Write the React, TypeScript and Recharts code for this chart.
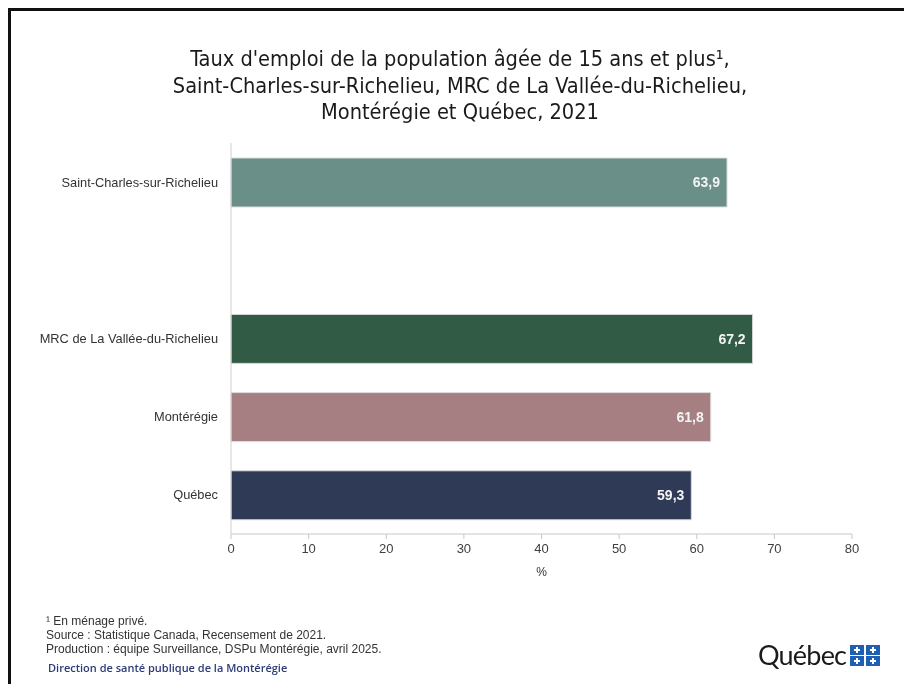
import { BarChart, Bar, XAxis, YAxis, Cell, LabelList } from 'recharts'

const categories = ['Saint-Charles-sur-Richelieu', '', 'MRC de La Vallée-du-Richelieu', 'Montérégie', 'Québec']
const rates = [63.9, null, 67.2, 61.8, 59.3]
const barColors = ['#6a8f89', '#ffffff', '#325b45', '#a67f83', '#2f3a57']
const xTicks = [0, 10, 20, 30, 40, 50, 60, 70, 80]

const titleLines = [
  "Taux d'emploi de la population âgée de 15 ans et plus¹,",
  'Saint-Charles-sur-Richelieu, MRC de La Vallée-du-Richelieu,',
  'Montérégie et Québec, 2021',
]

const notes = [
  '¹ En ménage privé.',
  'Source : Statistique Canada, Recensement de 2021.',
  'Production : équipe Surveillance, DSPu Montérégie, avril 2025.',
]

const data = categories.map((name, i) => ({ name, rate: rates[i] }))

const SANS = 'Arial, "Liberation Sans", Helvetica, sans-serif'
const TICK = { fill: '#404040', fontSize: 13, fontFamily: SANS }

function fmt(v: unknown): string {
  if (v == null) return ''
  return Number(v).toFixed(1).replace('.', ',')
}

function QuebecFlag() {
  // small 2x2 blue squares with white crosses
  const cells = [[0, 0], [16, 0], [0, 11], [16, 11]]
  return (
    <svg width={30} height={21} style={{ position: 'absolute', left: 842, top: 637 }}>
      {cells.map(([x, y], i) => (
        <g key={i}>
          <rect x={x} y={y} width={14} height={10} fill="#1f5fb4" />
          <rect x={x + 6} y={y + 2} width={2} height={6} fill="#fff" />
          <rect x={x + 4} y={y + 4} width={6} height={2} fill="#fff" />
        </g>
      ))}
    </svg>
  )
}

export default function App() {
  return (
    <div style={{ position: 'relative', width: 888, height: 668, background: '#fff' }}>
      {/* frame: only the top and left edges show in the crop */}
      <div
        style={{
          position: 'fixed', left: 8, top: 8, width: 896, height: 676,
          borderLeft: '3px solid #111', borderTop: '3px solid #111', boxSizing: 'border-box',
        }}
      />

      <div
        style={{
          position: 'absolute', left: 0, top: 38, width: 904, textAlign: 'center',
          fontFamily: '"Liberation Sans Narrow", "DejaVu Sans Condensed", Arial, sans-serif',
          fontSize: 21.6, lineHeight: '26.5px', color: '#1a1a1a',
        }}
      >
        {titleLines.map(t => <div key={t}>{t}</div>)}
      </div>

      <div style={{ position: 'absolute', left: 0, top: 0 }}>
        <BarChart
          width={880}
          height={600}
          data={data}
          layout="vertical"
          margin={{ top: 135, right: 36, bottom: 44, left: 0 }}
          barCategoryGap={0}
        >
          <XAxis
            type="number"
            domain={[0, 80]}
            ticks={xTicks}
            interval={0}
            tick={TICK}
            tickSize={5}
            tickMargin={5}
            stroke="#c8c8c8"
            height={30}
            label={{ value: '%', position: 'insideBottom', offset: -12, fill: '#333', fontSize: 12, fontFamily: SANS }}
          />
          <YAxis
            type="category"
            dataKey="name"
            width={223}
            tickLine={false}
            tickMargin={7}
            stroke="#d0d0d0"
            tick={{ fill: '#333', fontSize: 12.8, fontFamily: SANS }}
            interval={0}
          />
          <Bar dataKey="rate" barSize={49} stroke="#dcdcdc" strokeWidth={1} isAnimationActive={false}>
            {data.map((d, i) => <Cell key={i} fill={barColors[i]} />)}
            <LabelList
              dataKey="rate"
              position="insideRight"
              offset={7}
              formatter={fmt}
              fill="#f4f4f4"
              fontSize={14}
              fontWeight="bold"
              fontFamily={SANS}
            />
          </Bar>
        </BarChart>
      </div>

      <div
        style={{
          position: 'absolute', left: 38, top: 606, fontFamily: SANS, fontSize: 12,
          lineHeight: '14px', color: '#333',
        }}
      >
        {notes.map(n => <div key={n}>{n}</div>)}
      </div>
      <div
        style={{
          position: 'absolute', left: 40, top: 652, fontFamily: '"Open Sans", sans-serif', fontSize: 11,
          fontWeight: 600, color: '#2d3c78',
        }}
      >
        Direction de santé publique de la Montérégie
      </div>

      <div
        style={{
          position: 'absolute', left: 750, top: 630, fontFamily: '"Lato", "Noto Sans", sans-serif',
          fontSize: 27, color: '#1a1a1a', letterSpacing: -0.8,
        }}
      >
        Québec
      </div>
      <QuebecFlag />
    </div>
  )
}
